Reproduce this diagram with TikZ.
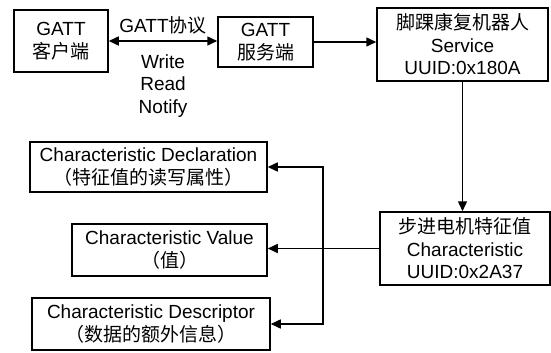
\documentclass[tikz,border=0pt]{standalone}
\usepackage{fontspec}
\setmainfont{Liberation Sans}
\newfontfamily\cjk{Noto Sans CJK SC}
\newcommand{\zh}[1]{{\cjk #1}}
\usetikzlibrary{arrows.meta, positioning, calc}

\begin{document}
\begin{tikzpicture}[
  x=1pt, y=-1pt,
  gbox/.style={draw, line width=1.5pt, align=center, inner sep=0pt, font=\fontsize{19}{22.5}\selectfont},
  lbl/.style={align=center, inner sep=0pt, font=\fontsize{19}{22.5}\selectfont},
  arr/.style={line width=1.5pt, -{Triangle[length=10pt, width=9pt]}},
  biarr/.style={line width=1.5pt, {Triangle[length=10pt, width=9pt]}-{Triangle[length=10pt, width=9pt]}}
]
  \useasboundingbox (0,0) rectangle (551,353);

  \node[gbox, minimum width=94pt, minimum height=62pt] (client) at (61, 41) {GATT\\\zh{客户端}};
  \node[gbox, minimum width=95pt, minimum height=50pt] (server) at (265.5, 42) {GATT\\\zh{服务端}};
  \node[gbox, minimum width=171pt, minimum height=73pt] (service) at (462.5, 44.5) {\zh{脚踝康复机器人}\\Service\\UUID:0x180A};
  \node[gbox, minimum width=170pt, minimum height=73pt] (charac) at (465, 248.5) {\zh{步进电机特征值}\\Characteristic\\UUID:0x2A37};

  \node[gbox, minimum width=237pt, minimum height=50pt] (decl) at (148.5, 167) {Characteristic Declaration\\\zh{（特征值的读写属性）}};
  \node[gbox, minimum width=195pt, minimum height=52pt] (value) at (169.5, 250) {Characteristic Value\\\zh{（值）}};
  \node[gbox, minimum width=238pt, minimum height=52pt] (desc) at (151, 324) {Characteristic Descriptor\\\zh{（数据的额外信息）}};

  \node[lbl] (proto) at (163, 25) {GATT\zh{协议}};
  \node[lbl] (ops) at (163, 86) {Write\\Read\\Notify};

  \draw[biarr] (client.east) -- (client.east -| server.west);
  \draw[arr] (server.east) -- (server.east -| service.west);
  \draw[arr] (service.south) -- (service.south |- charac.north);
  \draw[arr] (charac.west) -- (charac.west -| value.east);

  \coordinate (bus) at (323, 250);
  \draw[arr] (bus) |- (decl.east);
  \draw[arr] (bus) |- (desc.east);
\end{tikzpicture}
\end{document}
